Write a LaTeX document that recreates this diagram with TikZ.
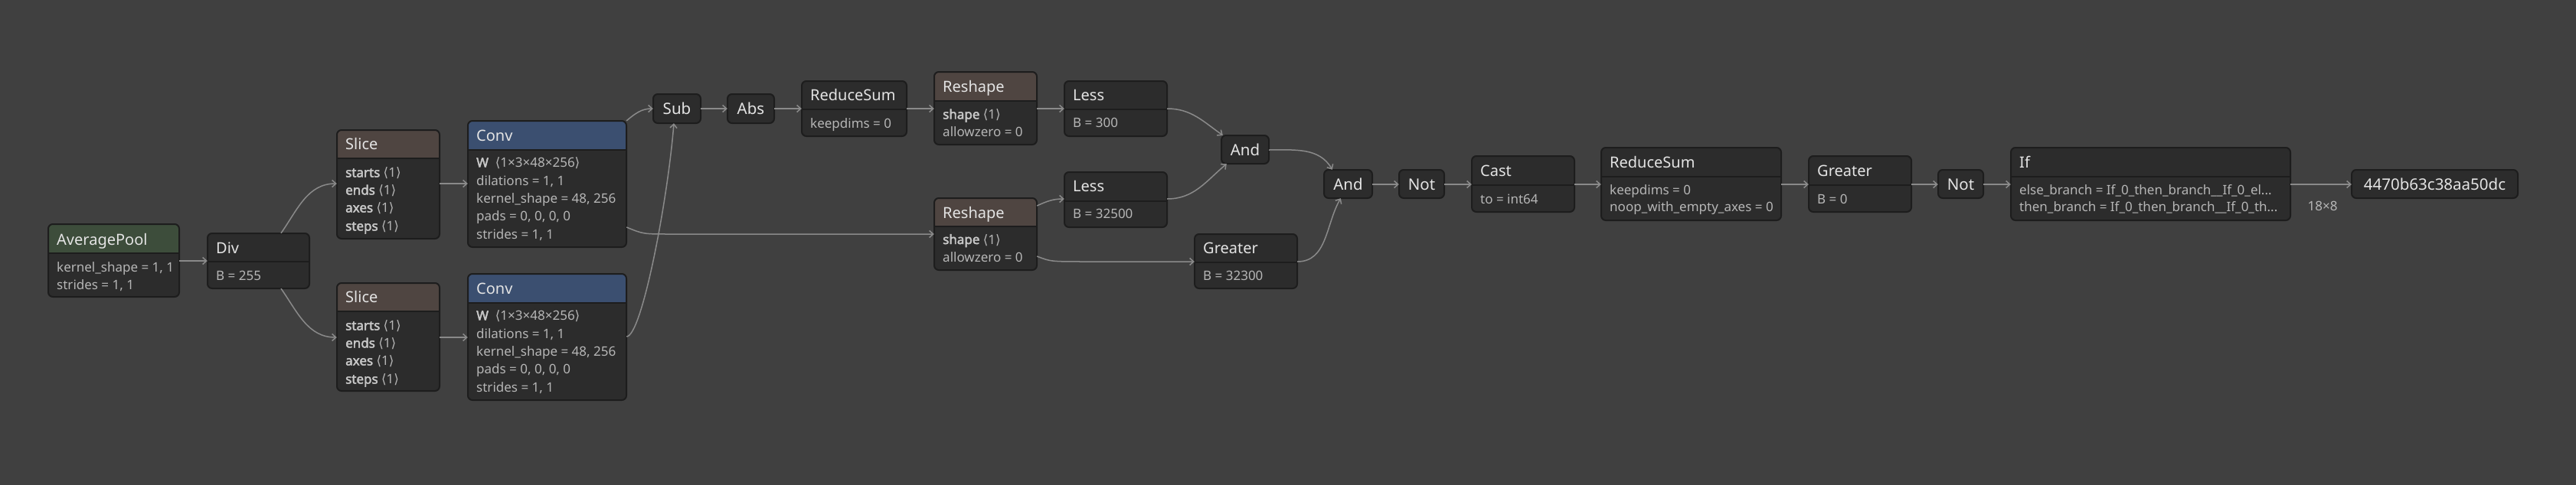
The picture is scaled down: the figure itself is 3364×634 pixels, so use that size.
\documentclass[tikz,border=0pt]{standalone}
\usepackage{fontspec}
\setmainfont{Noto Sans}
\newfontfamily\symf{DejaVu Sans}
\newfontfamily\bnf{Noto Sans}[FakeBold=2.5]
\usetikzlibrary{arrows.meta,fit,calc}
\definecolor{cbg}{HTML}{404040}
\definecolor{cbody}{HTML}{2C2C2C}
\definecolor{cbord}{HTML}{1D1D1D}
\definecolor{hgreen}{HTML}{3D4D3B}
\definecolor{hbrown}{HTML}{4F4541}
\definecolor{hblue}{HTML}{3B4F70}
\definecolor{cttl}{HTML}{E4E4E4}
\definecolor{catr}{HTML}{B6B6B6}
\definecolor{cbold}{HTML}{C8C8C8}
\definecolor{cedge}{HTML}{8A8A8A}
\newcommand\angb[1]{{\symf ⟨}#1{\symf ⟩}}
\newcommand\bname[1]{{\bnf\color{cbold}#1}}
\tikzset{
 conn/.style={draw=cedge, line width=1.5, -{Straight Barb[length=5,width=9]}},
 ttext/.style={text=cttl, font=\fontsize{20}{23}\selectfont, inner sep=0, anchor=base west},
 stext/.style={text=cttl, font=\fontsize{20.5}{23}\selectfont, inner sep=0, anchor=base},
 atext/.style={text=catr, font=\fontsize{17}{20}\selectfont, inner sep=0, anchor=base west},
 opfit/.style={inner sep=0, draw=none},
}
% name, x1, y1, x2, y2, split, header colour, title, title baseline
\newcommand\opnode[9]{%
 \begin{scope}
 \clip[rounded corners=6] (#2,#3) rectangle (#4,#5);
 \fill[cbody] (#2,#3) rectangle (#4,#5);
 \fill[#7] (#2,#3) rectangle (#4,#6);
 \end{scope}
 \draw[cbord, line width=2] (#2,#6) -- (#4,#6);
 \draw[cbord, line width=2, rounded corners=6] (#2,#3) rectangle (#4,#5);
 \node[opfit, fit={(#2,#3)(#4,#5)}] (#1) {};
 \node[ttext] (#1-t) at ({#2+11},#9) {#8};
}
% name, x1, y1, x2, y2, text
\newcommand\simplenode[6]{%
 \draw[cbord, fill=cbody, line width=2, rounded corners=6] (#2,#3) rectangle (#4,#5);
 \node[opfit, fit={(#2,#3)(#4,#5)}] (#1) {};
 \node[stext] (#1-t) at ({(#2+#4)/2},{(#3+#5)/2+7.5}) {#6};
}
\begin{document}
\begin{tikzpicture}[x=1pt,y=-1pt]
\fill[cbg] (0,0) rectangle (3364,634);
\useasboundingbox (0,0) rectangle (3364,634);

% AveragePool
\opnode{avgpool}{63}{293}{234}{388}{331}{hgreen}{AveragePool}{320}
\node[atext] (avgpool-a1) at (74,355) {kernel\_shape = 1, 1};
\node[atext] (avgpool-a2) at (74,378) {strides = 1, 1};

% Div
\opnode{div}{271}{305}{404}{377}{342}{cbody}{Div}{331}
\node[atext] (div-a1) at (282,366.5) {B = 255};

% Slices
\opnode{slicea}{440}{170}{574}{312}{207}{hbrown}{Slice}{195.5}
\node[atext] (slicea-a1) at (451,231.5) {\bname{starts} \angb{1}};
\node[atext] (slicea-a2) at (451,254.5) {\bname{ends} \angb{1}};
\node[atext] (slicea-a3) at (451,277.5) {\bname{axes} \angb{1}};
\node[atext] (slicea-a4) at (451,301.5) {\bname{steps} \angb{1}};

\opnode{sliceb}{440}{370}{574}{511}{407}{hbrown}{Slice}{395.5}
\node[atext] (sliceb-a1) at (451,431.5) {\bname{starts} \angb{1}};
\node[atext] (sliceb-a2) at (451,454.5) {\bname{ends} \angb{1}};
\node[atext] (sliceb-a3) at (451,477.5) {\bname{axes} \angb{1}};
\node[atext] (sliceb-a4) at (451,501.5) {\bname{steps} \angb{1}};

% Convs
\opnode{conva}{611}{158}{818}{323}{196}{hblue}{Conv}{184}
\node[atext] (conva-a1) at (622,218.5) {\bname{W}\ \ \angb{1×3×48×256}};
\node[atext] (conva-a2) at (622,242.5) {dilations = 1, 1};
\node[atext] (conva-a3) at (622,265.5) {kernel\_shape = 48, 256};
\node[atext] (conva-a4) at (622,288.5) {pads = 0, 0, 0, 0};
\node[atext] (conva-a5) at (622,312.5) {strides = 1, 1};

\opnode{convb}{611}{358}{818}{523}{396}{hblue}{Conv}{384}
\node[atext] (convb-a1) at (622,418.5) {\bname{W}\ \ \angb{1×3×48×256}};
\node[atext] (convb-a2) at (622,442.5) {dilations = 1, 1};
\node[atext] (convb-a3) at (622,465.5) {kernel\_shape = 48, 256};
\node[atext] (convb-a4) at (622,488.5) {pads = 0, 0, 0, 0};
\node[atext] (convb-a5) at (622,512.5) {strides = 1, 1};

% Sub, Abs
\simplenode{sub}{853}{123}{915}{161}{Sub}
\simplenode{abs}{950}{123}{1011}{161}{Abs}

% ReduceSum 1
\opnode{rsuma}{1047}{106}{1184}{178}{143}{cbody}{ReduceSum}{131.5}
\node[atext] (rsuma-a1) at (1058,167.5) {keepdims = 0};

% Reshapes
\opnode{reshapea}{1220}{94}{1354}{189}{132}{hbrown}{Reshape}{120}
\node[atext] (reshapea-a1) at (1231,155.5) {\bname{shape} \angb{1}};
\node[atext] (reshapea-a2) at (1231,178.5) {allowzero = 0};

\opnode{reshapeb}{1220}{259}{1354}{353}{296}{hbrown}{Reshape}{285}
\node[atext] (reshapeb-a1) at (1231,319) {\bname{shape} \angb{1}};
\node[atext] (reshapeb-a2) at (1231,342.5) {allowzero = 0};

% Less
\opnode{lessa}{1390}{106}{1524}{178}{143}{cbody}{Less}{131.5}
\node[atext] (lessa-a1) at (1401,166.5) {B = 300};
\opnode{lessb}{1390}{225}{1524}{297}{263}{cbody}{Less}{250.5}
\node[atext] (lessb-a1) at (1401,285.5) {B = 32500};

% And 1
\simplenode{anda}{1595}{177}{1657}{214}{And}

% Greater 1
\opnode{greatera}{1560}{306}{1694}{377}{343}{cbody}{Greater}{331.5}
\node[atext] (greatera-a1) at (1571,366.5) {B = 32300};

% And 2, Not 1
\simplenode{andb}{1729}{222}{1792}{259}{And}
\simplenode{nota}{1827}{222}{1886}{259}{Not}

% Cast
\opnode{cast}{1922}{204}{2056}{277}{242}{cbody}{Cast}{230}
\node[atext] (cast-a1) at (1933,266.5) {to = int64};

% ReduceSum 2
\opnode{rsumb}{2091}{193}{2326}{288}{231}{cbody}{ReduceSum}{219}
\node[atext] (rsumb-a1) at (2102,254.5) {keepdims = 0};
\node[atext] (rsumb-a2) at (2102,276.5) {noop\_with\_empty\_axes = 0};

% Greater 2
\opnode{greaterb}{2362}{204}{2496}{277}{242}{cbody}{Greater}{230}
\node[atext] (greaterb-a1) at (2373,266.5) {B = 0};

% Not 2
\simplenode{notb}{2531}{222}{2590}{259}{Not}

% If
\opnode{ifn}{2626}{193}{2991}{288}{231}{cbody}{If}{219}
\node[atext] (ifn-a1) at (2637,254.5) {else\_branch = If\_0\_then\_branch\_\_If\_0\_el...};
\node[atext] (ifn-a2) at (2637,276.5) {then\_branch = If\_0\_then\_branch\_\_If\_0\_th...};

% Output
\simplenode{outn}{3071}{222}{3288}{259}{4470b63c38aa50dc}
\node[atext, anchor=base] (lbl) at (3033,275.5) {18×8};

% Connectors
\draw[conn] (avgpool.east |- 0,341) -- (div.west |- 0,341);
\draw[conn] (div.north -| 367,0) to[out=55,in=180] (slicea.west |- 0,240);
\draw[conn] (div.south -| 367,0) to[out=-55,in=180] (sliceb.west |- 0,441);
\draw[conn] (slicea.east |- 0,240) -- (conva.west |- 0,240);
\draw[conn] (sliceb.east |- 0,441) -- (convb.west |- 0,441);
\draw[conn] (conva.north east) to[out=40,in=180] (sub.west |- 0,142);
\draw[conn] (convb.east |- 0,440) .. controls (838,440) and (872,262) .. (sub.south -| 880,0);
\draw[conn] (conva.east |- 0,297) .. controls (840,306) .. (875,306) -- (reshapeb.west |- 0,306);
\draw[conn] (sub.east |- 0,142) -- (abs.west |- 0,142);
\draw[conn] (abs.east |- 0,142) -- (rsuma.west |- 0,142);
\draw[conn] (rsuma.east |- 0,142) -- (reshapea.west |- 0,142);
\draw[conn] (reshapea.east |- 0,142) -- (lessa.west |- 0,142);
\draw[conn] (reshapeb.east |- 0,269) to[out=25,in=180] (lessb.west |- 0,260);
\draw[conn] (reshapeb.east |- 0,335) .. controls (1372,342) .. (1420,342) -- (greatera.west |- 0,342);
\draw[conn] (lessa.east |- 0,142) to[out=0,in=145] ($(anda.north west)+(2,0)$);
\draw[conn] (lessb.east |- 0,260) to[out=0,in=-140] ($(anda.south west)+(7,0)$);
\draw[conn] (anda.east |- 0,196) to[out=0,in=120] ($(andb.north west)+(11,0)$);
\draw[conn] (greatera.east |- 0,342) to[out=0,in=-120] ($(andb.south west)+(22,0)$);
\draw[conn] (andb.east |- 0,241) -- (nota.west |- 0,241);
\draw[conn] (nota.east |- 0,241) -- (cast.west |- 0,241);
\draw[conn] (cast.east |- 0,241) -- (rsumb.west |- 0,241);
\draw[conn] (rsumb.east |- 0,241) -- (greaterb.west |- 0,241);
\draw[conn] (greaterb.east |- 0,241) -- (notb.west |- 0,241);
\draw[conn] (notb.east |- 0,241) -- (ifn.west |- 0,241);
\draw[conn] (ifn.east |- 0,241) -- (outn.west |- 0,241);
\end{tikzpicture}
\end{document}
